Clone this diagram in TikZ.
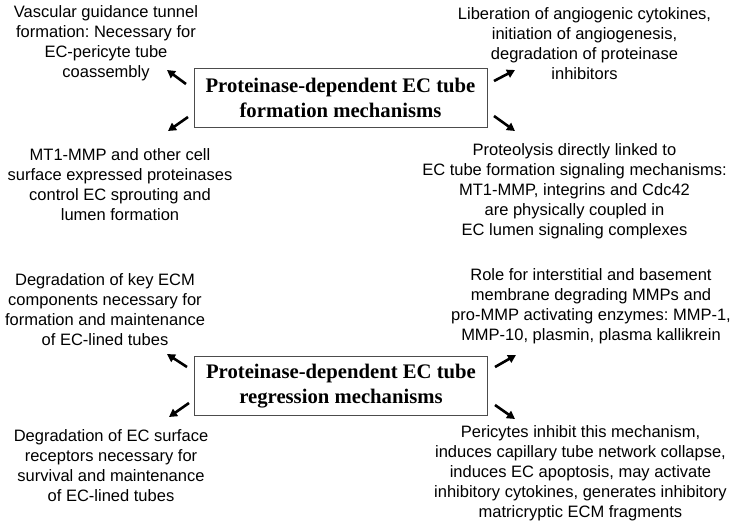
\documentclass[tikz,border=0pt]{standalone}
\usepackage{fontspec}
\setmainfont{Liberation Sans}
\newfontfamily\titlefont{Liberation Serif}
\usetikzlibrary{arrows.meta}
\frenchspacing
\begin{document}
\begin{tikzpicture}[x=1pt,y=-1pt,
  sidetext/.style={align=center,inner sep=0pt,font=\frenchspacing\fontsize{16.5}{20}\selectfont},
  titlebox/.style={draw=black!70,line width=0.9pt,minimum width=293pt,minimum height=59pt,inner sep=0pt,align=center,font=\titlefont\bfseries\fontsize{20.7}{25}\selectfont},
  thickarrow/.style={line width=2.6pt,-{Triangle[length=8pt,width=8.5pt]}}]
\useasboundingbox (0,0) rectangle (737,525);
\fill[white] (0,0) rectangle (737,525);
% boxes
\node[titlebox] (form) at (340.5,97.5) {Proteinase-dependent EC tube\\formation mechanisms};
\node[titlebox] (regr) at (341,386) {Proteinase-dependent EC tube\\regression mechanisms};
% side texts top
\node[sidetext] (tl) at (106,43.5) {Vascular guidance tunnel\\formation: Necessary for\\EC-pericyte tube\\coassembly};
\node[sidetext] (tr) at (584.5,43.5) {Liberation of angiogenic cytokines,\\initiation of angiogenesis,\\degradation of proteinase\\inhibitors};
\node[sidetext] (ml) at (120,185) {MT1-MMP and other cell\\surface expressed proteinases\\control EC sprouting and\\lumen formation};
\node[sidetext] (mr) at (574.5,191.5) {Proteolysis directly linked to\\EC tube formation signaling mechanisms:\\MT1-MMP, integrins and Cdc42\\are physically coupled in\\EC lumen signaling complexes};
% side texts bottom
\node[sidetext] (bl1) at (105,310) {Degradation of key ECM\\components necessary for\\formation and maintenance\\of EC-lined tubes};
\node[sidetext] (br1) at (591,306) {Role for interstitial and basement\\membrane degrading MMPs and\\pro-MMP activating enzymes: MMP-1,\\MMP-10, plasmin, plasma kallikrein};
\node[sidetext] (bl2) at (111,465.5) {Degradation of EC surface\\receptors necessary for\\survival and maintenance\\of EC-lined tubes};
\node[sidetext] (br2) at (580.5,473) {Pericytes inhibit this mechanism,\\induces capillary tube network collapse,\\induces EC apoptosis, may activate\\inhibitory cytokines, generates inhibitory\\matricryptic ECM fragments};
% arrow end points
\coordinate (a1s) at (186,84);  \coordinate (a1e) at (167,70);
\coordinate (a2s) at (188,117); \coordinate (a2e) at (168,131);
\coordinate (a3s) at (494,81);  \coordinate (a3e) at (515,70);
\coordinate (a4s) at (494,116); \coordinate (a4e) at (515,131);
\coordinate (b1s) at (187,367); \coordinate (b1e) at (167,354);
\coordinate (b2s) at (189,403); \coordinate (b2e) at (169,417);
\coordinate (b3s) at (495,367); \coordinate (b3e) at (516,355);
\coordinate (b4s) at (495,405); \coordinate (b4e) at (515,419);
\draw[thickarrow] (a1s) -- (a1e);
\draw[thickarrow] (a2s) -- (a2e);
\draw[thickarrow] (a3s) -- (a3e);
\draw[thickarrow] (a4s) -- (a4e);
\draw[thickarrow] (b1s) -- (b1e);
\draw[thickarrow] (b2s) -- (b2e);
\draw[thickarrow] (b3s) -- (b3e);
\draw[thickarrow] (b4s) -- (b4e);
\end{tikzpicture}
\end{document}
